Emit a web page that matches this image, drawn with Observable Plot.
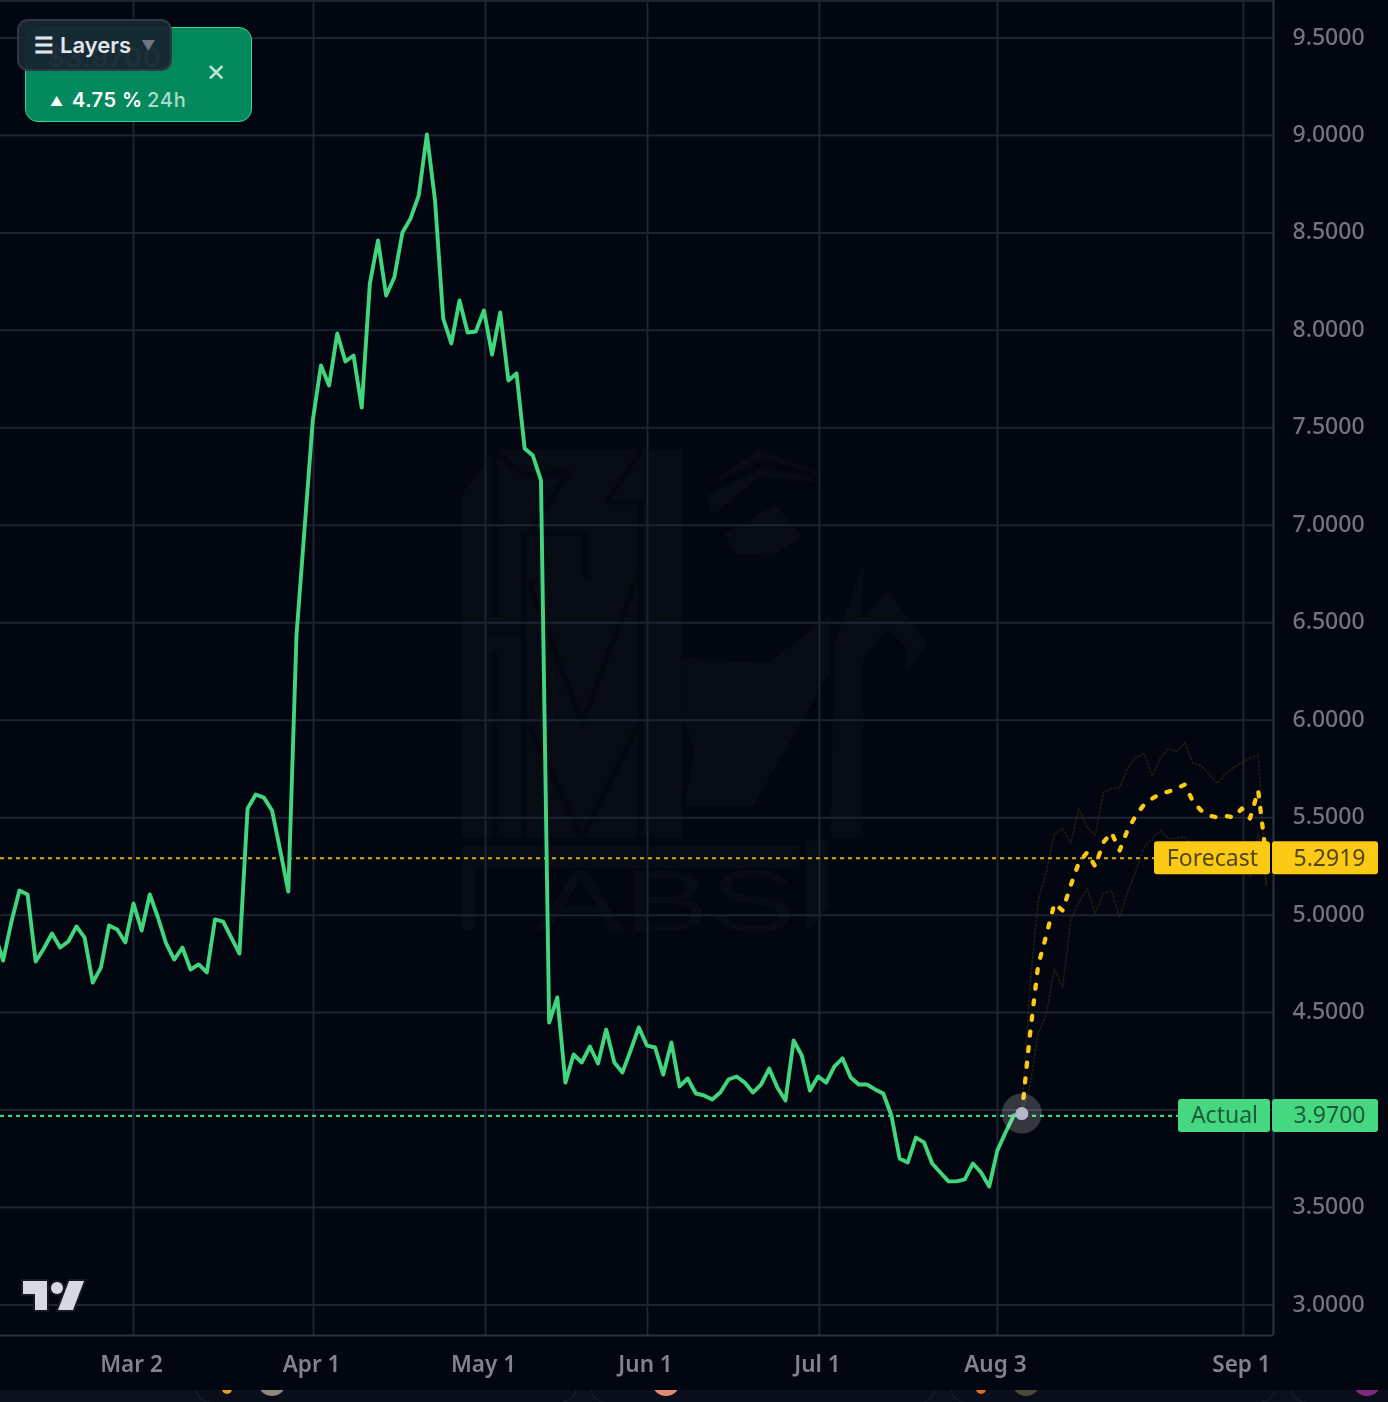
<!DOCTYPE html>
<html>
<head>
<meta charset="utf-8">
<script src="https://cdn.jsdelivr.net/npm/d3@7"></script>
<script src="https://cdn.jsdelivr.net/npm/@observablehq/plot@0.6"></script>
<style>
html,body{margin:0;padding:0;width:1388px;height:1402px;overflow:hidden;background:#0b0f1c;font-family:"Noto Sans",sans-serif}
#stage{position:absolute;left:0;top:0;width:1388px;height:1390px;background:#020610;overflow:hidden}
#wm,#chart,#tv{position:absolute;left:0;top:0}
#chart,#tv{filter:blur(0.35px)}
.card{position:absolute;top:1350px;height:51px;border:1.5px solid #1d2333;border-radius:16px;background:#0a0e1b}
.blob{position:absolute;border-radius:50%}
#badge{position:absolute;left:25px;top:27px;width:225px;height:93px;border:1.5px solid #3ad39a;border-radius:13px;background:#04895d;color:#fff;font-family:Inter,sans-serif}
#price{position:absolute;left:21px;top:12px;font-size:27px;font-weight:600;letter-spacing:.6px;line-height:36px}
#close{position:absolute;left:180px;top:31px;font-size:24px;line-height:28px;color:#bfe6d8}
#arrow{position:absolute;left:24px;top:64px;font-size:13px;line-height:18px}
#pct{position:absolute;left:46px;top:60px;font-size:20px;font-weight:600;letter-spacing:.5px;line-height:24px;white-space:nowrap}
#per{position:absolute;left:121px;top:60px;font-size:20px;font-weight:500;letter-spacing:.8px;line-height:24px;color:#a9dcc9;white-space:nowrap}
#layers{position:absolute;left:17px;top:19px;width:151px;height:48px;border:2px solid #2d3748;border-radius:11px;background:rgba(22,38,48,.955);color:#e3e6ec;font-family:Inter,sans-serif;font-size:22px;font-weight:600;line-height:48px;white-space:nowrap}
#layers b{position:absolute;left:15px;top:0;font-weight:700}
#layers i{position:absolute;left:41px;top:0;font-style:normal}
#layers u{position:absolute;left:122px;top:1px;text-decoration:none;color:#6d7482;font-size:14px}
</style>
</head>
<body>
<div class="card" style="left:195px;width:380px"></div>
<div class="card" style="left:590px;width:344px"></div>
<div class="card" style="left:950px;width:324px"></div>
<div class="card" style="left:1290px;width:140px"></div>
<div class="blob" style="left:222px;top:1384px;width:10px;height:10px;background:#e0a010"></div>
<div class="blob" style="left:258px;top:1368px;width:28px;height:28px;background:#8d8880"></div>
<div class="blob" style="left:652px;top:1368px;width:28px;height:28px;background:#e28a72"></div>
<div class="blob" style="left:976px;top:1384px;width:10px;height:10px;background:#e0701a"></div>
<div class="blob" style="left:1012px;top:1368px;width:28px;height:28px;background:#4a4a3c"></div>
<div class="blob" style="left:1353px;top:1368px;width:28px;height:28px;background:#7d2a80"></div>
<div id="stage">
<svg id="wm" width="1388" height="1390">
 <g transform="translate(420,430) scale(0.345)" fill="#070b14">
  <path d="M120,190 L215,55 L760,55 L760,1180 L120,1180 Z"/>
  <g fill="none" stroke="#03070f" stroke-width="14">
   <path d="M215,60 L215,540 M215,640 L215,1180 M300,300 L300,1180"/>
   <path d="M315,440 L470,850 L640,400"/>
   <path d="M315,860 L470,1180 L635,850"/>
   <path d="M540,210 L640,60 M540,210 L640,210 L640,1180"/>
   <path d="M200,590 L300,590 M300,300 L480,300 L480,430"/>
   <path d="M215,60 L300,130 L430,125 L320,290"/>
  </g>
  <path d="M830,190 L1000,105 L1185,155 L985,135 L850,245 Z"/>
  <path d="M840,155 L980,55 L1180,135 L1000,85 Z"/>
  <path d="M880,300 L1030,215 L1110,310 L1020,365 L920,360 Z"/>
  <path d="M760,660 L900,670 L1010,675 L1190,535 L1190,700 L965,1090 L765,1090 L795,930 L760,830 Z"/>
  <path d="M1190,1180 L1285,1180 L1285,660 L1355,575 L1410,630 L1410,700 L1470,620 L1355,465 L1285,545 L1285,390 L1200,620 Z"/>
  <path d="M120,1205 L1100,1205 L1100,1270 L160,1270 L160,1450 L120,1450 Z"/>
  <path d="M1120,1190 L1185,1190 L1185,1380 L1120,1460 Z"/>
  <text x="340" y="1452" font-family="Liberation Sans" font-size="250" textLength="750" lengthAdjust="spacingAndGlyphs" fill="#070b14">ABS</text>
 </g>
</svg>
<div id="chart"></div>
<svg id="tv" width="1388" height="1390">
 <g fill="#d6d8e2" stroke="#141925" stroke-width="4" paint-order="stroke" stroke-linejoin="miter">
  <path d="M23,1281 L47,1281 L47,1310 L35,1310 L35,1294 L23,1294 Z"/>
  <circle cx="57" cy="1288" r="6"/>
  <path d="M84,1281 L73,1310 L58,1310 L69,1281 Z"/>
 </g>
</svg>
<div id="badge">
 <div id="price">$3.9700</div>
 <div id="close">✕</div>
 <div id="arrow">▲</div>
 <div id="pct">4.75 %</div>
 <div id="per">24h</div>
</div>
<div id="layers"><b>☰</b><i>Layers</i><u>▼</u></div>
</div>
<script>
// (USD price). First value lies just off the left edge.
const actual = [4.90,4.767,4.962,5.126,5.106,4.762,4.829,4.906,4.834,4.865,4.942,4.885,4.654,4.731,4.947,4.926,4.860,5.060,4.921,5.106,4.988,4.855,4.772,4.834,4.721,4.747,4.706,4.978,4.967,4.885,4.803,5.547,5.619,5.603,5.537,5.332,5.121,6.435,6.989,7.538,7.820,7.717,7.984,7.840,7.871,7.604,8.240,8.461,8.179,8.271,8.502,8.574,8.692,9.005,8.666,8.061,7.933,8.153,7.989,7.994,8.102,7.876,8.092,7.743,7.779,7.394,7.358,7.230,4.449,4.578,4.141,4.285,4.244,4.326,4.239,4.413,4.244,4.193,4.306,4.424,4.331,4.321,4.182,4.347,4.121,4.162,4.085,4.075,4.054,4.090,4.157,4.172,4.141,4.090,4.131,4.213,4.116,4.049,4.357,4.280,4.100,4.172,4.141,4.224,4.265,4.167,4.131,4.131,4.106,4.085,3.972,3.752,3.731,3.859,3.834,3.726,3.680,3.634,3.634,3.644,3.726,3.680,3.608,3.793,3.885,3.972,3.982];
const forecast = [3.982,4.388,4.742,4.896,5.060,5.024,5.152,5.270,5.321,5.250,5.373,5.424,5.332,5.439,5.511,5.568,5.598,5.624,5.634,5.650,5.670,5.583,5.537,5.511,5.501,5.509,5.501,5.547,5.496,5.639,5.2919];
const upper = [3.982,4.639,5.075,5.219,5.419,5.444,5.368,5.547,5.450,5.409,5.629,5.650,5.655,5.757,5.809,5.829,5.711,5.804,5.855,5.840,5.886,5.778,5.768,5.721,5.675,5.727,5.757,5.783,5.804,5.824,5.152];
const lower = [3.982,4.126,4.393,4.495,4.726,4.629,4.973,5.065,5.137,5.008,5.111,5.126,4.988,5.121,5.229,5.347,5.393,5.434,5.393,5.393,5.403,5.332,5.301,5.270,5.239,5.250,5.250,5.255,5.198,5.424,5.152];
const yGrid = [3,3.5,4,4.5,5,5.5,6,6.5,7,7.5,8,8.5,9,9.5];
const yLabelled = [3,3.5,4.5,5,5.5,6,6.5,7,7.5,8,8.5,9,9.5];
const xTickIndex = [17,39.09,60.19,80.07,101.17,123,153.2];
const xTickLabels = ["Mar 2","Apr 1","May 1","Jun 1","Jul 1","Aug 3","Sep 1"];
const tagNames = ["Forecast","Actual"];
const tagValues = [5.2919,3.97];
const tagFills = ["#fcca14","#45d880"];
const tagInks = ["#4f4714","#1c5a3a"];
const tagNameWidths = [116,92];
const lastIndex = actual.length - 1;

const GREEN = "#41d67e", GRID = "#1d2331", FONT = '"Noto Sans",sans-serif';
const pts = a => a.map((v,i)=>({i,v}));
const fpts = a => a.map((v,i)=>({i:i+lastIndex,v}));
const tags = tagNames.map((name,i)=>({name,value:tagValues[i],fill:tagFills[i],ink:tagInks[i],w:tagNameWidths[i]}));

function tagBoxes(index, scales, values, dims){
  const g = d3.create("svg:g");
  const right = dims.width - dims.marginRight;
  for (const t of tags){
    const y = scales.y(t.value);
    g.append("rect").attr("x",right-3-t.w).attr("y",y-16.5).attr("width",t.w).attr("height",33).attr("rx",3).attr("fill",t.fill);
    g.append("rect").attr("x",right-1).attr("y",y-16.5).attr("width",106).attr("height",33).attr("rx",3).attr("fill",t.fill);
  }
  return g.node();
}

const chart = Plot.plot({
  width:1388, height:1390,
  marginLeft:0, marginRight:115, marginTop:0, marginBottom:55,
  style:{background:"transparent",overflow:"visible",fontFamily:FONT},
  x:{type:"linear",domain:[0.681,156.88]},
  y:{type:"linear",domain:[2.8435,9.6922]},
  marks:[
    Plot.gridX(xTickIndex,{stroke:GRID,strokeOpacity:1,strokeWidth:2}),
    Plot.gridY(yGrid,{stroke:GRID,strokeOpacity:1,strokeWidth:2}),
    Plot.ruleY([9.6922],{stroke:GRID,strokeWidth:3}),
    Plot.ruleX([156.88],{stroke:"#2c3342",strokeWidth:2}),
    Plot.ruleY([2.8435],{stroke:"#2c3342",strokeWidth:2}),
    Plot.axisY(yLabelled,{anchor:"right",tickSize:0,tickPadding:19,dy:-0.8,label:null,tickFormat:d=>d.toFixed(4),fontSize:23,fill:"#71747f",fontWeight:500}),
    Plot.axisX(xTickIndex,{anchor:"bottom",tickSize:0,tickPadding:21,dx:-2,label:null,tickFormat:d=>xTickLabels[xTickIndex.indexOf(d)],fontSize:22.5,fill:"#80838d",fontWeight:600}),
    Plot.line(fpts(upper),{x:"i",y:"v",stroke:"#4a4018",strokeOpacity:.42,strokeWidth:1.6,strokeDasharray:"1.6 2.4"}),
    Plot.line(fpts(lower),{x:"i",y:"v",stroke:"#4a4018",strokeOpacity:.42,strokeWidth:1.6,strokeDasharray:"1.6 2.4"}),
    Plot.ruleY([tagValues[0]],{x1:0.681,x2:142.5,stroke:"#dcaa10",strokeWidth:2.2,strokeDasharray:"4 4"}),
    Plot.ruleY([tagValues[1]],{x1:0.681,x2:145.5,stroke:"#3fd07c",strokeWidth:2.2,strokeDasharray:"4 4"}),
    Plot.line(pts(actual),{x:"i",y:"v",stroke:GREEN,strokeWidth:3.9,strokeLinejoin:"round"}),
    Plot.line(fpts(forecast),{x:"i",y:"v",stroke:"#fcca14",strokeWidth:4.3,strokeDasharray:"4 11.7",strokeLinecap:"round"}),
    Plot.dot([{i:lastIndex,v:actual[lastIndex]}],{x:"i",y:"v",r:20,fill:"#ffffff",fillOpacity:.2}),
    Plot.dot([{i:lastIndex,v:actual[lastIndex]}],{x:"i",y:"v",r:6.5,fill:"#b4b8c6"}),
    tagBoxes,
    Plot.text(tags,{y:"value",text:"name",frameAnchor:"right",dx:-15.5,textAnchor:"end",fill:"ink",fontSize:23}),
    Plot.text(tags,{y:"value",text:d=>d.value.toFixed(4),frameAnchor:"right",dx:92,textAnchor:"end",fill:"ink",fontSize:23})
  ]
});
document.getElementById("chart").append(chart);
</script>
</body>
</html>
